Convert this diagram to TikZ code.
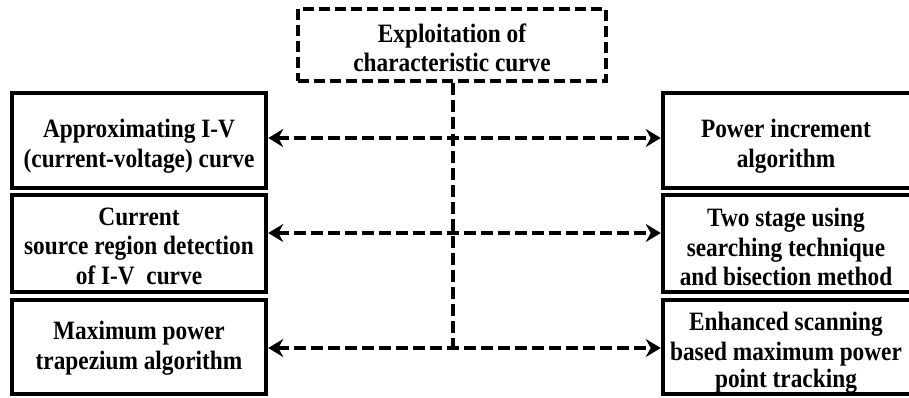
\documentclass[tikz,border=0pt]{standalone}
\usepackage{fontspec}
\setmainfont{Liberation Serif}[FakeStretch=0.88]
\usetikzlibrary{arrows.meta}
\begin{document}
\begin{tikzpicture}[x=1pt,y=-1pt,
  txt/.style={inner sep=0pt,align=center,font=\fontsize{26.5}{29.5}\selectfont\bfseries},
  box/.style={draw=black,line width=4.5pt,minimum width=254pt,inner sep=0pt},
  rbox/.style={draw=black,line width=4.5pt,minimum width=270pt,inner sep=0pt},
  topbox/.style={draw=black,line width=4pt,dash pattern=on 11pt off 5pt,minimum width=308pt,minimum height=72pt,inner sep=0pt},
  conn/.style={line width=3.5pt,dash pattern=on 12pt off 5pt,{Stealth[length=15pt,width=18pt,inset=5pt]}-{Stealth[length=15pt,width=18pt,inset=5pt]}},
  vline/.style={line width=3.5pt,dash pattern=on 12pt off 5pt}]
\useasboundingbox (0,0) rectangle (909,397);
\clip (0,0) rectangle (909,397);
\fill[white] (0,0) rectangle (909,397);
% boxes
\node[topbox] (top) at (452,45) {};
\node[box,minimum height=95pt] (L1) at (139,140.5) {};
\node[box,minimum height=97pt] (L2) at (139,243.5) {};
\node[box,minimum height=94pt] (L3) at (139,347) {};
\node[rbox,minimum height=95pt] (R1) at (798,140.5) {};
\node[rbox,minimum height=97pt] (R2) at (798,243.5) {};
\node[rbox,minimum height=94pt] (R3) at (798,347) {};
% texts
\node[txt,font=\fontsize{26.5}{29}\selectfont\bfseries] (topt) at (452,48) {Exploitation of\\characteristic curve};
\node[txt] (L1t) at (139,146) {Approximating I-V\\(current-voltage) curve};
\node[txt] (L2t) at (139,246) {Current\\source region detection\\of I-V\ \ curve};
\node[txt] (L3t) at (139,348) {Maximum power\\trapezium algorithm};
\node[txt] (R1t) at (786,146) {Power increment\\algorithm};
\node[txt] (R2t) at (786,247) {Two stage using\\searching technique\\and bisection method};
\node[txt] (R3t) at (786,353) {Enhanced scanning\\based maximum power\\[-2pt]point tracking};
% connectors
\coordinate (J) at (453,348);
\draw[vline] (top.south -| J) -- (J);
\draw[conn] ([yshift=2.5pt]L1.east) -- ([yshift=2.5pt]R1.west);
\draw[conn] ([yshift=10.5pt]L2.east) -- ([yshift=10.5pt]R2.west);
\draw[conn] ([yshift=-1pt]L3.east) -- ([yshift=-1pt]R3.west);
\end{tikzpicture}
\end{document}
